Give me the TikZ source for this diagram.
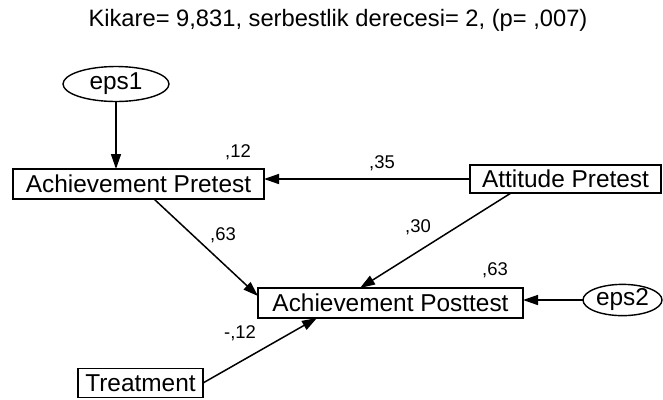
\documentclass[tikz,border=0pt]{standalone}
\usepackage{fontspec}
\setmainfont{Liberation Sans}
\usetikzlibrary{shapes.geometric,arrows.meta}
\begin{document}
\begin{tikzpicture}[x=1bp,y=-1bp,
  every node/.style={inner sep=0pt,outer sep=0pt},
  var/.style={draw,line width=1.4bp,minimum height=30bp,font=\fontsize{24.5}{27}\selectfont},
  err/.style={draw,ellipse,line width=1.4bp,font=\fontsize{24.5}{27}\selectfont},
  lab/.style={font=\fontsize{18.5}{20}\selectfont},
  path/.style={line width=1.5bp,-{Triangle[length=15bp,width=10bp]}}]
\useasboundingbox (0,0) rectangle (663,399);
\node[font=\fontsize{23.8}{26}\selectfont] (title) at (338,20) {Kikare= 9,831, serbestlik derecesi= 2, (p= ,007)};
\node[err,minimum width=106bp,minimum height=35bp] (eps1) at (116,84) {eps1};
\node[var,minimum width=251bp] (ap) at (138.5,184) {Achievement Pretest};
\node[var,minimum width=191bp,minimum height=28bp] (at) at (565.5,179) {Attitude Pretest};
\node[var,minimum width=265bp] (post) at (390.5,303) {Achievement Posttest};
\node[err,minimum width=79bp,minimum height=24bp] (eps2) at (622.5,300) {eps2};
\node[var,minimum width=125bp,minimum height=29bp] (tr) at (140.5,383) {Treatment};
\draw[path] (eps1.south) -- (eps1.south |- ap.north);
\draw[path] (at.west) -- (at.west -| ap.east);
\draw[path] ([xshift=15.5bp]ap.south) -- ([yshift=-8bp]post.north west);
\draw[path] ([xshift=-54.5bp]at.south) -- ([xshift=-30.5bp]post.north);
\draw[path] (tr.east) -- ([xshift=-73.5bp]post.south);
\draw[path] (eps2.west) -- (eps2.west -| post.east);
\node[lab] (l1) at (238,152) {,12};
\node[lab] (l2) at (382,163) {,35};
\node[lab] (l3) at (223,235) {,63};
\node[lab] (l4) at (418,227) {,30};
\node[lab] (l5) at (495,270) {,63};
\node[lab] (l6) at (240,333) {-,12};
\end{tikzpicture}
\end{document}
